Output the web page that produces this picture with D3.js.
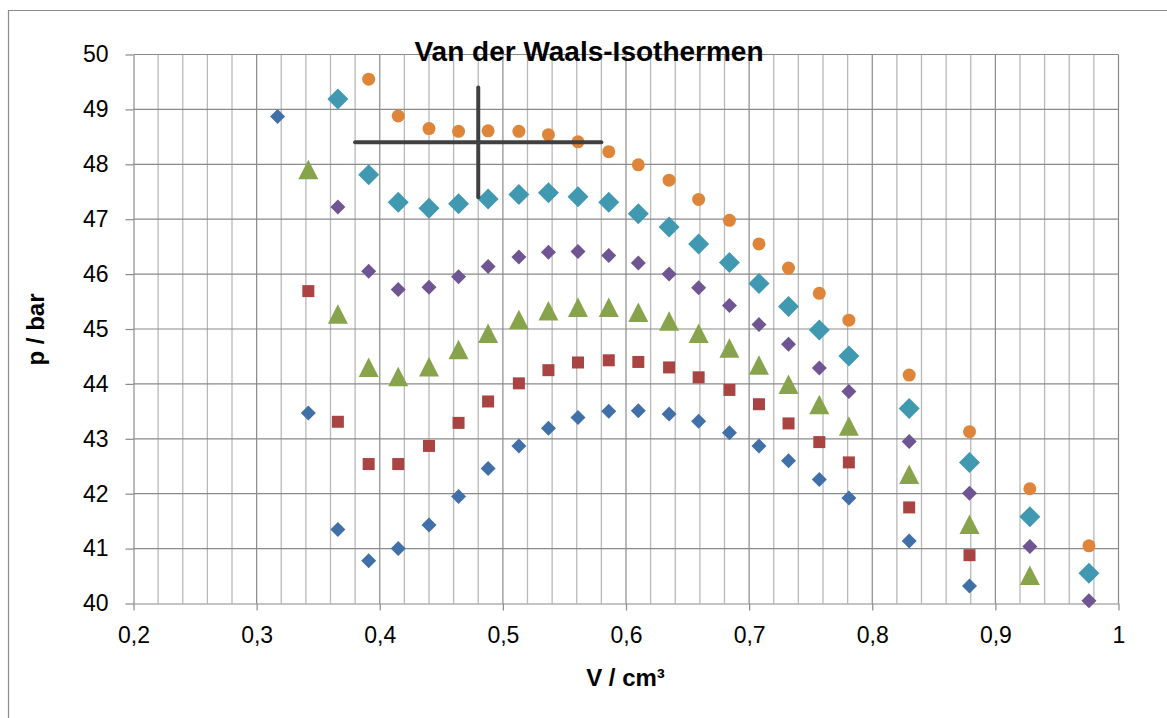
<!DOCTYPE html>
<html>
<head>
<meta charset="utf-8">
<script src="https://cdn.jsdelivr.net/npm/d3@7"></script>
<style>
    body { margin: 0; background: #fff; }
    text { font-family: "Liberation Sans", Arial, sans-serif; fill: #000; }
</style>
</head>
<body>
<div id="chart"></div>
<script>
// volumes (x values) shared by every isotherm
const volumes = [0.317, 0.342, 0.366, 0.391, 0.415, 0.440, 0.464, 0.488, 0.513, 0.537, 0.561, 0.586,
    0.610, 0.635, 0.659, 0.684, 0.708, 0.732, 0.757, 0.781, 0.830, 0.879, 0.928, 0.976];

// pressures per isotherm, null where the point lies outside the plot
const pBlue = [48.87, 43.47, 41.35, 40.78, 41.00, 41.43, 41.95, 42.46, 42.87, 43.19, 43.39, 43.50,
    43.51, 43.45, 43.32, 43.11, 42.87, 42.60, 42.26, 41.92, 41.14, 40.32, null, null];
const pRed = [null, 45.69, 43.31, 42.54, 42.54, 42.87, 43.29, 43.68, 44.01, 44.25, 44.39, 44.43,
    44.40, 44.30, 44.12, 43.89, 43.63, 43.28, 42.94, 42.57, 41.75, 40.88, null, null];
const pGreen = [null, 47.90, 45.27, 44.30, 44.13, 44.31, 44.62, 44.92, 45.17, 45.33, 45.39, 45.39,
    45.30, 45.14, 44.92, 44.65, 44.34, 43.99, 43.62, 43.23, 42.35, 41.44, 40.51, null];
const pPurple = [null, null, 47.22, 46.05, 45.72, 45.76, 45.95, 46.14, 46.31, 46.40, 46.41, 46.34,
    46.20, 46.00, 45.75, 45.43, 45.08, 44.72, 44.29, 43.86, 42.95, 42.01, 41.04, 40.05];
const pAqua = [null, null, 49.19, 47.81, 47.31, 47.20, 47.28, 47.37, 47.45, 47.48, 47.41, 47.31,
    47.10, 46.86, 46.55, 46.21, 45.83, 45.41, 44.98, 44.51, 43.55, 42.57, 41.58, 40.55];
const pOrange = [null, null, null, 49.55, 48.88, 48.65, 48.60, 48.61, 48.60, 48.54, 48.41, 48.23,
    47.99, 47.71, 47.36, 46.98, 46.55, 46.11, 45.65, 45.16, 44.16, 43.13, 42.09, 41.05];

// the error cross drawn over the chart
const crossPoint = { v: 0.48, p: 48.4, dv: 0.1, dp: 1.0 };

const xTicks = [0.2, 0.3, 0.4, 0.5, 0.6, 0.7, 0.8, 0.9, 1.0];
const yTicks = [40, 41, 42, 43, 44, 45, 46, 47, 48, 49, 50];

const series = [
    { name: 'blue', values: pBlue, color: '#4170A8', shape: 'diamond', size: 15 },
    { name: 'red', values: pRed, color: '#A94442', shape: 'square', size: 12 },
    { name: 'green', values: pGreen, color: '#87A44C', shape: 'triangle', size: 20 },
    { name: 'purple', values: pPurple, color: '#6F5592', shape: 'diamond', size: 15 },
    { name: 'aqua', values: pAqua, color: '#4099B0', shape: 'diamond', size: 21 },
    { name: 'orange', values: pOrange, color: '#DE853A', shape: 'circle', size: 13 }
];

const svgWidth = 1167;
const svgHeight = 718;
const margin = { top: 55, right: 49, bottom: 114, left: 133 };
const width = svgWidth - margin.left - margin.right;
const height = svgHeight - margin.top - margin.bottom;

const svg = d3.select('#chart')
    .append('svg')
    .attr('width', svgWidth)
    .attr('height', svgHeight);

// outer chart frame (only left and top edges are in view)
svg.append('path')
    .attr('d', `M8.5,${svgHeight} V10.5 H${svgWidth}`)
    .style('fill', 'none')
    .style('stroke', '#8c8c8c')
    .style('stroke-width', 1.2);

const bounds = svg.append('g')
    .attr('transform', `translate(${margin.left + 0.5}, ${margin.top - 0.5})`);

const xScale = d3.scaleLinear()
    .domain([0.2, 1.0])
    .range([0, width]);

const yScale = d3.scaleLinear()
    .domain([40, 50])
    .range([height, 0]);

const deFormat = d3.formatLocale({ decimal: ',', thousands: '.', grouping: [3], currency: ['', ' €'] })
    .format('.1~f');

// minor vertical grid
bounds.append('g')
    .selectAll('line')
    .data(xScale.ticks(40).filter(d => Math.abs(d * 10 - Math.round(d * 10)) > 1e-6))
    .enter()
    .append('line')
    .attr('x1', d => xScale(d))
    .attr('x2', d => xScale(d))
    .attr('y1', 0)
    .attr('y2', height)
    .style('stroke', '#b8b8b8')
    .style('stroke-width', 1.3);

// major grid
bounds.append('g')
    .selectAll('line')
    .data(xTicks.slice(1))
    .enter()
    .append('line')
    .attr('x1', d => xScale(d))
    .attr('x2', d => xScale(d))
    .attr('y1', 0)
    .attr('y2', height)
    .style('stroke', '#8a8a8a')
    .style('stroke-width', 1.2);

bounds.append('g')
    .selectAll('line')
    .data(yTicks.slice(1))
    .enter()
    .append('line')
    .attr('x1', 0)
    .attr('x2', width)
    .attr('y1', d => yScale(d))
    .attr('y2', d => yScale(d))
    .style('stroke', '#8a8a8a')
    .style('stroke-width', 1.2);

const xAxisGroup = bounds.append('g')
    .attr('transform', `translate(0, ${height})`)
    .call(d3.axisBottom(xScale)
        .tickValues(xTicks)
        .tickFormat(deFormat)
        .tickSize(7)
        .tickSizeOuter(0)
        .tickPadding(16));

const yAxisGroup = bounds.append('g')
    .call(d3.axisLeft(yScale)
        .tickValues(yTicks)
        .tickFormat(d => d)
        .tickSize(8)
        .tickSizeOuter(0)
        .tickPadding(17));

[xAxisGroup, yAxisGroup].forEach(g => {
    g.selectAll('path, line')
        .style('stroke', '#8a8a8a')
        .style('stroke-width', 1.2);
    g.selectAll('text')
        .style('font-size', '23px')
        .style('font-family', '"Liberation Sans", Arial, sans-serif')
        .style('fill', '#000');
});

// marker paths, centred on the data point
const markerPath = (shape, s) => {
    const h = s / 2;
    if (shape === 'diamond') return `M0,${-h}L${h},0L0,${h}L${-h},0Z`;
    if (shape === 'square') return `M${-h},${-h}H${h}V${h}H${-h}Z`;
    if (shape === 'triangle') return `M0,${-h}L${h},${h * 0.95}L${-h},${h * 0.95}Z`;
    return d3.symbol(d3.symbolCircle, Math.PI * h * h)();
};

series.forEach(s => {
    const points = volumes
        .map((v, i) => ({ v, p: s.values[i] }))
        .filter(d => d.p !== null);

    bounds.append('g')
        .attr('class', `series ${s.name}`)
        .selectAll('path')
        .data(points)
        .enter()
        .append('path')
        .attr('transform', d => `translate(${xScale(d.v)}, ${yScale(d.p)})`)
        .attr('d', markerPath(s.shape, s.size))
        .style('fill', s.color);
});

// error cross
const cross = bounds.append('g')
    .style('stroke', '#404040')
    .style('stroke-width', 4)
    .style('stroke-linecap', 'round');

cross.append('line')
    .attr('x1', xScale(crossPoint.v - crossPoint.dv))
    .attr('x2', xScale(crossPoint.v + crossPoint.dv))
    .attr('y1', yScale(crossPoint.p))
    .attr('y2', yScale(crossPoint.p));

cross.append('line')
    .attr('x1', xScale(crossPoint.v))
    .attr('x2', xScale(crossPoint.v))
    .attr('y1', yScale(crossPoint.p + crossPoint.dp))
    .attr('y2', yScale(crossPoint.p - crossPoint.dp));

// titles
svg.append('text')
    .attr('x', 589)
    .attr('y', 61)
    .attr('text-anchor', 'middle')
    .style('font-size', '28px')
    .style('font-weight', 'bold')
    .text('Van der Waals-Isothermen');

svg.append('text')
    .attr('x', margin.left + width / 2)
    .attr('y', 686)
    .attr('text-anchor', 'middle')
    .style('font-size', '24px')
    .style('font-weight', 'bold')
    .text('V / cm³');

svg.append('text')
    .attr('transform', `translate(44, ${margin.top + height / 2}) rotate(-90)`)
    .attr('text-anchor', 'middle')
    .style('font-size', '24px')
    .style('font-weight', 'bold')
    .text('p / bar');
</script>
</body>
</html>
